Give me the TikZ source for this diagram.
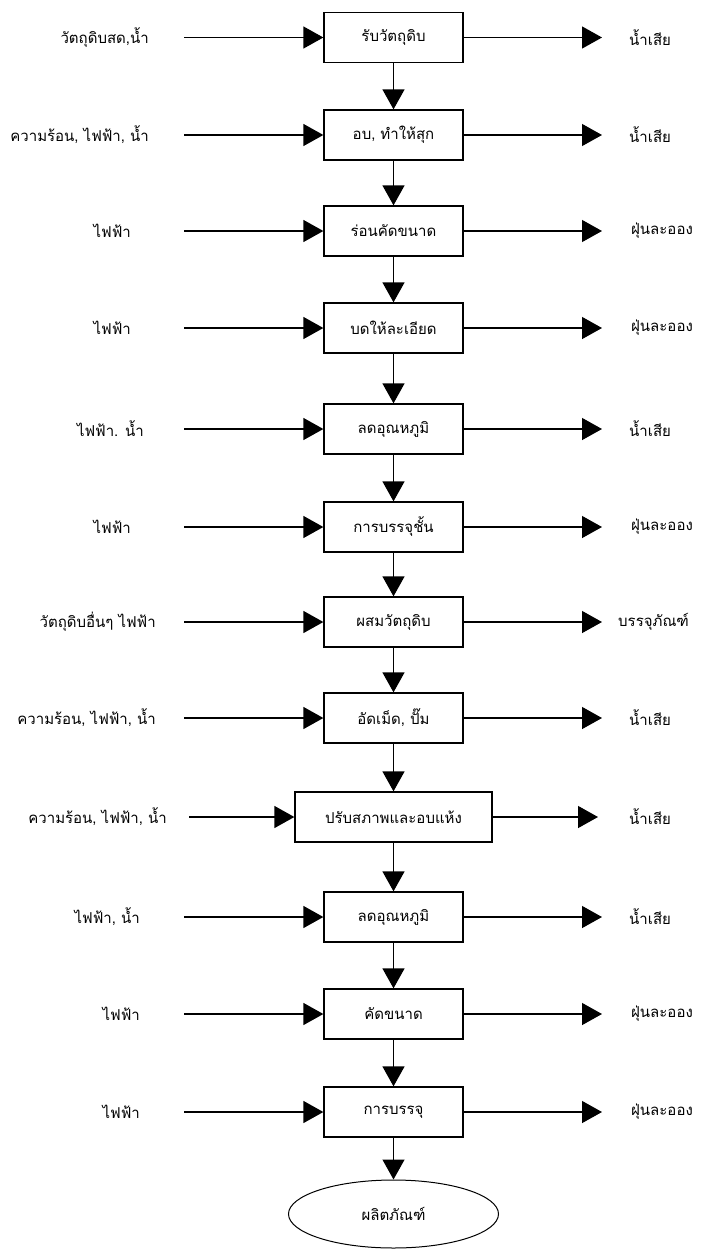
\documentclass[tikz,border=0pt]{standalone}
\usepackage{fontspec}
\newfontfamily\thaifont[Script=Thai]{Loma}
\usetikzlibrary{arrows.meta, shapes.geometric}

\begin{document}
\begin{tikzpicture}[x=1pt, y=-1pt, >={Triangle[length=20pt, width=22pt]},
    font=\thaifont\fontsize{15}{17}\selectfont,
    box/.style={draw, line width=1.3pt, minimum width=139pt, minimum height=50pt, inner sep=2pt},
    inlabel/.style={anchor=east, inner sep=0pt},
    outlabel/.style={anchor=west, inner sep=0pt},
    flow/.style={->, line width=1.3pt}]
    \useasboundingbox (0,0) rectangle (707,1250);
    % ขั้นตอนการผลิต
    \node[box] (b1) at (393.5, 37.5) {รับวัตถุดิบ};
    \node[box] (b2) at (393.5, 135) {อบ, ทำให้สุก};
    \node[box] (b3) at (393.5, 231) {ร่อนคัดขนาด};
    \node[box] (b4) at (393.5, 328) {บดให้ละเอียด};
    \node[box] (b5) at (393.5, 429) {ลดอุณหภูมิ};
    \node[box] (b6) at (393.5, 527) {การบรรจุชั้น};
    \node[box] (b7) at (393.5, 622) {ผสมวัตถุดิบ};
    \node[box] (b8) at (393.5, 718) {อัดเม็ด, ปั๊ม};
    \node[box, minimum width=197pt] (b9) at (393.5, 817) {ปรับสภาพและอบแห้ง};
    \node[box] (b10) at (393.5, 917) {ลดอุณหภูมิ};
    \node[box] (b11) at (393.5, 1014) {คัดขนาด};
    \node[box] (b12) at (393.5, 1112) {การบรรจุ};
    \node[draw, ellipse, line width=1pt, minimum width=210pt, minimum height=68pt] (prod) at (393.5, 1214) {ผลิตภัณฑ์};
    % สิ่งที่ใช้
    \node[inlabel] (in1) at (149, 37.5) {วัตถุดิบสด,น้ำ};
    \node[inlabel] (in2) at (149, 135) {ความร้อน, ไฟฟ้า, น้ำ};
    \node[inlabel] (in3) at (131, 231) {ไฟฟ้า};
    \node[inlabel] (in4) at (131, 328) {ไฟฟ้า};
    \node[inlabel] (in5) at (144, 429) {ไฟฟ้า. น้ำ};
    \node[inlabel] (in6) at (131, 527) {ไฟฟ้า};
    \node[inlabel] (in7) at (156, 622) {วัตถุดิบอื่นๆ ไฟฟ้า};
    \node[inlabel] (in8) at (156, 718) {ความร้อน, ไฟฟ้า, น้ำ};
    \node[inlabel] (in9) at (167, 817) {ความร้อน, ไฟฟ้า, น้ำ};
    \node[inlabel] (in10) at (140, 917) {ไฟฟ้า, น้ำ};
    \node[inlabel] (in11) at (140, 1014) {ไฟฟ้า};
    \node[inlabel] (in12) at (140, 1112) {ไฟฟ้า};
    % ของเสีย
    \node[outlabel] (out1) at (629, 37.5) {น้ำเสีย};
    \node[outlabel] (out2) at (629, 135) {น้ำเสีย};
    \node[outlabel] (out3) at (631, 231) {ฝุ่นละออง};
    \node[outlabel] (out4) at (631, 328) {ฝุ่นละออง};
    \node[outlabel] (out5) at (629, 429) {น้ำเสีย};
    \node[outlabel] (out6) at (631, 527) {ฝุ่นละออง};
    \node[outlabel] (out7) at (618, 622) {บรรจุภัณฑ์};
    \node[outlabel] (out8) at (629, 718) {น้ำเสีย};
    \node[outlabel] (out9) at (629, 817) {น้ำเสีย};
    \node[outlabel] (out10) at (629, 917) {น้ำเสีย};
    \node[outlabel] (out11) at (631, 1014) {ฝุ่นละออง};
    \node[outlabel] (out12) at (631, 1112) {ฝุ่นละออง};
    % จุดเริ่มและปลายลูกศร
    \coordinate (s1) at (184, 37.5);   \coordinate (e1) at (602, 37.5);
    \coordinate (s2) at (184, 135);    \coordinate (e2) at (602, 135);
    \coordinate (s3) at (184, 231);    \coordinate (e3) at (602, 231);
    \coordinate (s4) at (184, 328);    \coordinate (e4) at (602, 328);
    \coordinate (s5) at (184, 429);    \coordinate (e5) at (602, 429);
    \coordinate (s6) at (184, 527);    \coordinate (e6) at (602, 527);
    \coordinate (s7) at (184, 622);    \coordinate (e7) at (602, 622);
    \coordinate (s8) at (184, 718);    \coordinate (e8) at (602, 718);
    \coordinate (s9) at (189, 817);    \coordinate (e9) at (598, 817);
    \coordinate (s10) at (184, 917);   \coordinate (e10) at (602, 917);
    \coordinate (s11) at (184, 1014);  \coordinate (e11) at (602, 1014);
    \coordinate (s12) at (184, 1112);  \coordinate (e12) at (602, 1112);
    % ลูกศร
    \foreach \i in {1,...,12} {
        \draw[flow] (s\i) -- (b\i);
        \draw[flow] (b\i) -- (e\i);
    }
    \foreach \i/\j in {1/2, 2/3, 3/4, 4/5, 5/6, 6/7, 7/8, 8/9, 9/10, 10/11, 11/12} {
        \draw[flow] (b\i) -- (b\j);
    }
    \draw[flow] (b12) -- (prod);
\end{tikzpicture}
\end{document}
